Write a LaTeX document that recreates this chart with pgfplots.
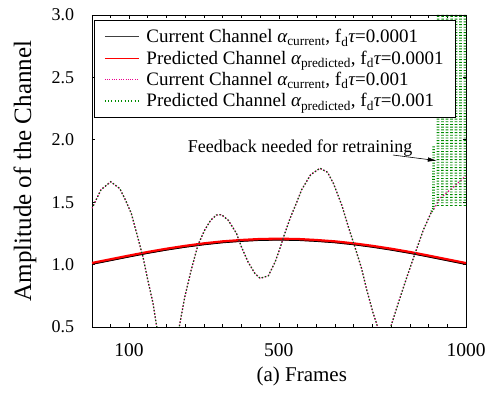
\documentclass[border=0pt]{standalone}
\usepackage{fontspec}
\setmainfont{Liberation Serif}
\usepackage{pgfplots}
\pgfplotsset{compat=1.18}
\usepackage{pgfplotstable}
\usetikzlibrary{arrows.meta}

% slow fading, f_d tau = 0.0001
\pgfplotstableread{
frame amp
1    1.001
50   1.030
100  1.060
150  1.089
200  1.115
250  1.138
300  1.158
350  1.174
400  1.185
450  1.193
500  1.195
550  1.193
600  1.185
650  1.174
700  1.158
750  1.138
800  1.115
850  1.089
900  1.060
950  1.030
1000 1.000
}\slowcur

\pgfplotstableread{
frame amp
1    1.011
50   1.040
100  1.070
150  1.099
200  1.125
250  1.148
300  1.168
350  1.184
400  1.195
450  1.203
500  1.205
550  1.203
600  1.195
650  1.184
700  1.168
750  1.148
800  1.125
850  1.099
900  1.070
950  1.040
1000 1.010
}\slowpred

% fast fading, f_d tau = 0.001 (common part of both curves)
\pgfplotstableread{
frame amp
1    1.451
25   1.600
51   1.664
75   1.610
90   1.520
106  1.410
124  1.210
137  1.063
150  0.877
164  0.690
173  0.516
190  0.300
204  0.250
218  0.300
235  0.516
249  0.743
266  0.957
284  1.157
302  1.277
318  1.355
333  1.397
347  1.400
365  1.355
387  1.250
400  1.143
418  1.020
436  0.930
450  0.890
472  0.910
490  1.020
503  1.130
516  1.250
530  1.370
548  1.500
561  1.600
585  1.720
610  1.772
630  1.740
646  1.650
668  1.478
686  1.300
703  1.143
721  0.970
735  0.796
752  0.610
761  0.530
770  0.430
781  0.400
792  0.430
802  0.530
819  0.690
842  0.900
864  1.090
886  1.277
908  1.424
}\fastcommon

\pgfplotstableread{
frame amp
908  1.424
917  1.460
930  1.530
950  1.580
970  1.630
988  1.680
1000 1.710
}\fastcurtail

% predicted channel once tracking is lost: rapid swings between 1.45 and beyond 3
\pgfplotstableread{
frame amp
908   1.424
913   1.450
913.5 1.950
914   nan
925   1.470
925.5 3.300
926   nan
937   1.470
937.5 3.300
938   nan
949   1.470
949.5 3.300
950   nan
961   1.470
961.5 3.300
962   nan
973   1.470
973.5 3.300
974   nan
985   1.470
985.5 3.300
986   nan
997   1.470
997.5 3.300
}\fastburst

\definecolor{predgreen}{rgb}{0,0.55,0}

\begin{document}
\begin{tikzpicture}
\begin{axis}[
  name=ax,
  scale only axis,
  width=374pt, height=312pt,
  xmin=1, xmax=1000,
  ymin=0.5, ymax=3.0,
  xtick={100,500,1000},
  minor xtick={50,100,...,1000},
  ytick={0.5,1.0,1.5,2.0,2.5,3.0},
  tick align=inside,
  tick pos=both,
  major tick length=3.5pt,
  minor tick length=3pt,
  axis line style={line width=0.8pt},
  every tick/.style={black, line width=0.6pt},
  unbounded coords=jump,
  /pgf/number format/assume math mode=true,
  /pgf/number format/1000 sep={},
  xticklabel style={anchor=center, yshift=-23pt, font=\fontsize{19.5}{20}\selectfont},
  yticklabel style={anchor=center, xshift=-29pt, font=\fontsize{18}{20}\selectfont,
    /pgf/number format/.cd, fixed, fixed zerofill, precision=1},
  xlabel={(a) Frames},
  ylabel={Amplitude of the Channel},
  xlabel style={at={(axis description cs:0.561,-0.160)}, anchor=center,
    font=\fontsize{21}{24}\selectfont},
  ylabel style={at={(axis description cs:-0.179,0.5)}, anchor=center,
    font=\fontsize{25}{28}\selectfont},
  legend image code/.code={\draw[#1] (0pt,0pt) -- (34pt,0pt); \path (0pt,0pt) (39pt,0pt);},
  legend cell align=left,
  legend style={at={(axis description cs:0.005,0.984)}, anchor=north west,
    draw=black, line width=0.8pt, fill=white,
    font=\fontsize{19}{21}\selectfont,
    row sep=2.5pt, inner xsep=10pt, inner ysep=7pt,
    nodes={inner sep=2pt}},
]
% curves
\addplot[forget plot, red, line width=2.8pt] table[x=frame, y=amp] {\slowpred};
\addplot[forget plot, black, line width=0.7pt] table[x=frame, y=amp] {\slowcur};
\addplot[forget plot, magenta, line width=1.3pt, dash pattern=on 1.3pt off 2pt] table[x=frame, y=amp] {\fastcommon};
\addplot[forget plot, magenta, line width=1.3pt, dash pattern=on 1.3pt off 2pt] table[x=frame, y=amp] {\fastcurtail};
\addplot[forget plot, predgreen!60!black, line width=1.2pt, dash pattern=on 1.3pt off 2pt, dash phase=0.6pt] table[x=frame, y=amp] {\fastcommon};
\addplot[forget plot, predgreen, line width=2.6pt, dash pattern=on 0.9pt off 1.8pt] table[x=frame, y=amp] {\fastburst};
% legend
\addlegendimage{draw=black!75, line width=0.9pt}
\addlegendentry{Current Channel {\itshape α}\textsubscript{current}, f\textsubscript{d}{\itshape τ}=0.0001}
\addlegendimage{draw=red, line width=1.1pt}
\addlegendentry{Predicted Channel {\itshape α}\textsubscript{predicted}, f\textsubscript{d}{\itshape τ}=0.0001}
\addlegendimage{draw=magenta, line width=1.2pt, dash pattern=on 1pt off 1.3pt}
\addlegendentry{Current Channel {\itshape α}\textsubscript{current}, f\textsubscript{d}{\itshape τ}=0.001}
\addlegendimage{draw=predgreen, line width=1.2pt, dash pattern=on 1pt off 2.3pt}
\addlegendentry{Predicted Channel {\itshape α}\textsubscript{predicted}, f\textsubscript{d}{\itshape τ}=0.001}
\node[font=\fontsize{18}{20}\selectfont] at (axis cs:557,1.934) {Feedback needed for retraining};
\draw[line width=0.6pt, -{Latex[length=9pt,width=4.5pt]}] (axis cs:805,1.878) -- (axis cs:922,1.833);
\end{axis}
\pgfresetboundingbox
\path[use as bounding box] ([shift={(-92pt,-69pt)}]ax.south west) rectangle ([shift={(27pt,15pt)}]ax.north east);
\end{tikzpicture}
\end{document}
